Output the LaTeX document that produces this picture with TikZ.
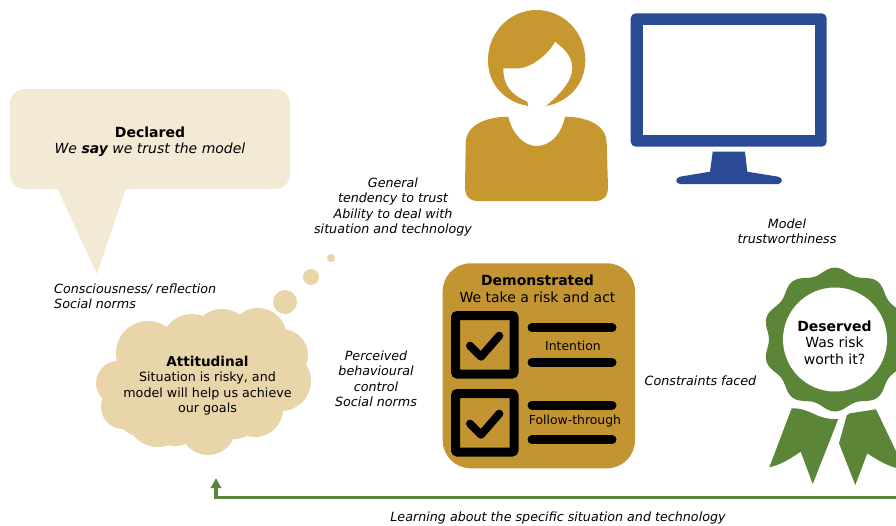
\documentclass[tikz,border=0pt]{standalone}
\usepackage{fontspec}
\setmainfont{DejaVu Sans}
\usepackage{xcolor}
\definecolor{paleTan}{HTML}{F3EAD6}
\definecolor{sandTan}{HTML}{E8D5A9}
\definecolor{goldTan}{HTML}{C89830}
\definecolor{boxTan}{HTML}{C39432}
\definecolor{screenBlue}{HTML}{2A4B93}
\definecolor{ribbonGreen}{HTML}{5B8537}
\begin{document}
\begin{tikzpicture}[x=1pt,y=-1pt,
  plain/.style={align=center,inner sep=0pt,font=\fontsize{12.7}{15.5}\selectfont},
  heading/.style={plain,font=\fontsize{14}{16.5}\selectfont},
  factor/.style={plain,font=\fontsize{12.7}{15.5}\selectfont\itshape},
  tickbar/.style={line width=9pt,line cap=round,black},
  tickbox/.style={line width=9pt,rounded corners=2pt,black},
  tickmark/.style={line width=8pt,line cap=round,line join=round,black},
  feedback/.style={draw=ribbonGreen,line width=3.3pt,-{Triangle[length=10pt,width=10pt]}}]
 \usetikzlibrary{arrows.meta}
 \clip (0,0) rectangle (896,525);

 %Declared bubble
 \fill[paleTan,rounded corners=15pt] (10,89) -- (290,89) -- (290,189) -- (10,189) -- cycle;
 \fill[paleTan] (57,188) -- (97,274) -- (126,188) -- cycle;

 %Attitudinal cloud
 \foreach \x/\y/\r in {118/383/22,148/353/32,192/345/31,222/339/30,258/337/29,282/355/26,281/381/30,255/409/28,208/427/28,158/415/32,123/407/22,175/418/28,140/412/24,235/415/24}
  \fill[sandTan] (\x,\y) circle[radius=\r];
 \fill[sandTan] (140,345) rectangle (275,415);
 \foreach \x/\y/\r in {285/302/12,311/277/8,331/258/4}
  \fill[sandTan] (\x,\y) circle[radius=\r];

 %Person
 \fill[goldTan] (528.3,106) .. controls (505,102) and (488,85) .. (488,60)
   .. controls (488,32) and (510,10) .. (536.7,10)
   .. controls (563,10) and (585.3,32) .. (585.3,60)
   .. controls (585.3,85) and (568,102) .. (546,106)
   .. controls (558,96) and (572.3,82) .. (572.3,68.3)
   .. controls (572.3,55) and (563,48) .. (555,41.7)
   .. controls (548,55) and (530,68.3) .. (518.3,68.3)
   -- (503.3,68.3)
   .. controls (503.3,85) and (510,94) .. (527.3,101.7) -- cycle;
 \fill[goldTan] (508.3,116.7) .. controls (513,136) and (525,146) .. (536.7,146)
   .. controls (549,146) and (561,136) .. (565,116.7)
   .. controls (592,117) and (606.7,128) .. (606.7,143)
   -- (608,187) .. controls (608,196) and (604,201) .. (595,201)
   -- (478,201) .. controls (469,201) and (465,196) .. (465,187)
   -- (465.7,143) .. controls (465.7,128) and (481,117) .. (508.3,116.7) -- cycle;

 %Monitor
 \fill[screenBlue,rounded corners=5pt] (630.7,13.3) rectangle (826.7,146.7);
 \fill[white] (643,25.3) rectangle (815,135);
 \fill[screenBlue] (712.7,151.7) -- (745,151.7) -- (747.3,171.7) -- (778.3,176.7)
   .. controls (783,178) and (783,183) .. (778.3,184) -- (680,184)
   .. controls (675,183) and (675,178) .. (680,176.7) -- (710,171.7) -- cycle;

 %Demonstrated card
 \fill[boxTan,rounded corners=28pt] (442.7,263.3) rectangle (635,468.3);
 \foreach \dy in {0,78}{
  \begin{scope}[yshift=-\dy pt]
   \draw[tickbox] (455.5,315.5) rectangle (514,374);
   \draw[tickmark] (470,345.7) -- (481,356.7) -- (499.3,335.7);
  \end{scope}
 }
 \foreach \y in {327.7,362.3,405,439.7}
  \draw[tickbar] (532,\y) -- (612,\y);

 %Ribbon
 \fill[ribbonGreen] (791.7,408.3) .. controls (812,408) and (815,420) .. (838.3,419)
   -- (812.7,484) -- (800.7,451.7) .. controls (790,459) and (780,465) .. (769.3,467.3) -- cycle;
 \fill[ribbonGreen] (876,409.3) -- (850,413.3) .. controls (847,414) and (846,416) .. (846,418.3)
   -- (839,443.3) -- (855.3,485) -- (867.3,453.3) .. controls (880,462) and (892,468) .. (905,470) -- cycle;
 \fill[ribbonGreen] plot[domain=0:360,samples=121,smooth cycle]
   ({835+(69-3*cos(10*\x))*cos(\x)},{339.5+(69-3*cos(10*\x))*sin(\x)});
 \fill[white] (835,339.5) circle[radius=52];

 %Names
 \node (declared) [heading] at (150,141.5) {\textbf{Declared}\\\textit{We \textbf{say} we trust the model}};
 \node (attitudinal) [plain] at (207.5,385.5) {\fontsize{13.6}{15.5}\selectfont\textbf{Attitudinal}\\Situation is risky, and\\model will help us achieve\\our goals};
 \node (demonstrated) [heading] at (537.5,289) {\textbf{Demonstrated}\\We take a risk and act};
 \node (intention) [plain,font=\fontsize{12.4}{15.5}\selectfont] at (573,346) {Intention};
 \node (followthrough) [plain,font=\fontsize{12.4}{15.5}\selectfont] at (575,421.5) {Follow-through};
 \node (deserved) [heading] at (834.5,342.5) {\textbf{Deserved}\\Was risk\\worth it?};

 \node (general) [factor] at (393,207) {General\\tendency to trust\\Ability to deal with\\situation and technology};
 \node (model) [factor] at (787,231.5) {Model\\trustworthiness};
 \node (conscious) [factor,align=left,anchor=west] at (54,296.5) {Consciousness/ reflection\\Social norms};
 \node (perceived) [factor] at (376,379) {Perceived\\behavioural\\control\\Social norms};
 \node (constraints) [factor] at (700.5,380.5) {Constraints faced};
 \node (learning) [factor] at (558,517.5) {Learning about the specific situation and technology};

 %Feedback
 \coordinate (feedbackStart) at (900,497.3);
 \coordinate (feedbackEnd) at (216,478);
 \draw[feedback] (feedbackStart) -| (feedbackEnd);
\end{tikzpicture}
\end{document}
